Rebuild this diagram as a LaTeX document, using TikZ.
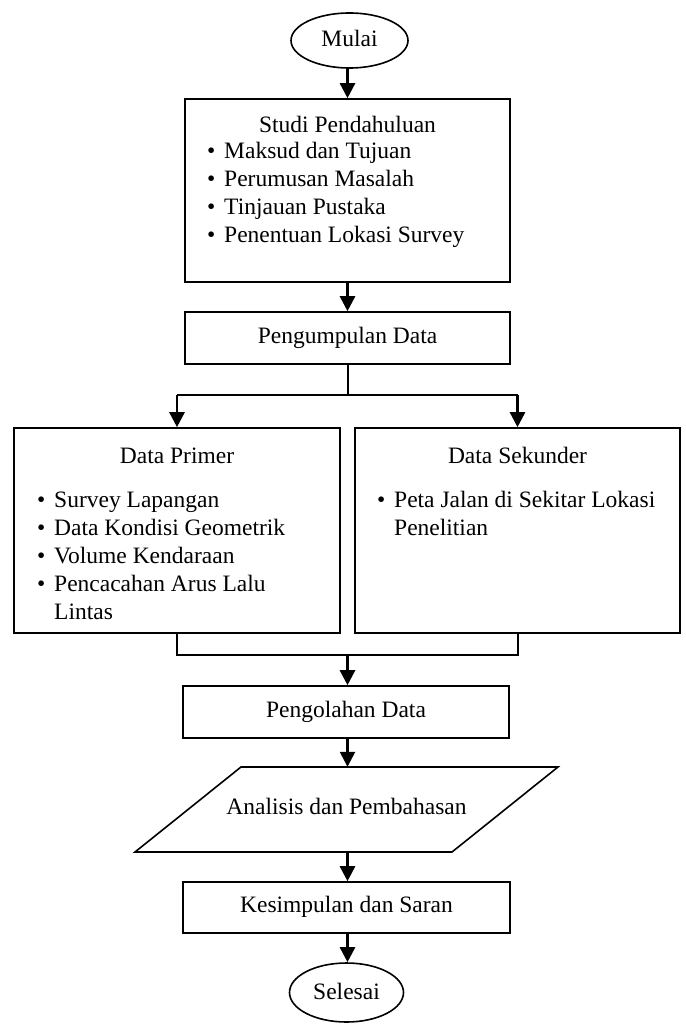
\documentclass[tikz,border=0pt]{standalone}
\usepackage{fontspec}
\setmainfont{Liberation Serif}
\usetikzlibrary{arrows.meta,shapes.geometric}
\newcommand{\bul}{\makebox[17pt][l]{\textbullet}}
\tikzset{
  every node/.style={font=\fontsize{23.5}{28}\selectfont, inner sep=0pt},
  boxnode/.style={draw, line width=1.6pt, rectangle, text height=15pt, text depth=5pt},
  bignode/.style={draw, line width=1.6pt, rectangle},
  ovalnode/.style={draw, line width=1.6pt, ellipse, text height=15pt, text depth=2pt},
  lbl/.style={anchor=base},
  item/.style={anchor=base west},
  conn/.style={line width=2pt},
  arr/.style={line width=2.6pt, -{Triangle[width=15pt,length=15pt]}},
}
\begin{document}
\begin{tikzpicture}[x=1pt,y=-1pt]
\useasboundingbox (0,0) rectangle (685,1024);

% nodes
\node[ovalnode, minimum width=117pt, minimum height=55pt] (mulai) at (349.5,40.5) {Mulai};

\node[bignode, minimum width=325pt, minimum height=183pt] (studi) at (347.5,190.5) {};
\node[lbl] (studiT) at (347.5,133) {Studi Pendahuluan};
\node[item] (s1) at (207,158.8) {\bul Maksud dan Tujuan};
\node[item] (s2) at (207,187) {\bul Perumusan Masalah};
\node[item] (s3) at (207,214.5) {\bul Tinjauan Pustaka};
\node[item] (s4) at (207,242.8) {\bul Penentuan Lokasi Survey};

\node[boxnode, minimum width=325pt, minimum height=52pt] (kumpul) at (347.5,338) {Pengumpulan Data};

\node[bignode, minimum width=326pt, minimum height=205pt] (primer) at (177,530.5) {};
\node[lbl] (primerT) at (177,463) {Data Primer};
\node[item] (p1) at (37,507.2) {\bul Survey Lapangan};
\node[item] (p2) at (37,535.2) {\bul Data Kondisi Geometrik};
\node[item] (p3) at (37,563.2) {\bul Volume Kendaraan};
\node[item] (p4) at (37,591.2) {\bul Pencacahan Arus Lalu};
\node[item] (p5) at (37,619.2) {\hspace*{17pt}Lintas};

\node[bignode, minimum width=325pt, minimum height=205pt] (sekunder) at (517.5,530.5) {};
\node[lbl] (sekunderT) at (517.5,463) {Data Sekunder};
\node[item] (k1) at (377,507.2) {\bul Peta Jalan di Sekitar Lokasi};
\node[item] (k2) at (377,535.2) {\hspace*{17pt}Penelitian};

\node[boxnode, minimum width=326pt, minimum height=52pt] (olah) at (346,712) {Pengolahan Data};

\node[rectangle, text height=15pt, text depth=5pt, minimum width=200pt, minimum height=85pt] (analisis) at (346.5,809.5) {Analisis dan Pembahasan};
\draw[line width=1.6pt] ([shift={(-211.5,42.5)}]analisis.center) -- ([shift={(-105.5,-42.5)}]analisis.center)
  -- ([shift={(211.5,-42.5)}]analisis.center) -- ([shift={(105.5,42.5)}]analisis.center) -- cycle;

\node[boxnode, minimum width=327pt, minimum height=51pt] (simpul) at (346.5,907.5) {Kesimpulan dan Saran};

\node[ovalnode, minimum width=114pt, minimum height=59pt] (selesai) at (346.5,992.5) {Selesai};

% connectors
\coordinate (split) at (347.5,395);
\coordinate (merge) at (347.5,655);

\draw[arr] (studi.north |- mulai.south) -- (studi.north);
\draw[arr] (studi.south) -- (kumpul.north);
\draw[conn] (kumpul.south) -- (split);
\draw[conn] (primer.north |- split) -- (sekunder.north |- split);
\draw[arr] (primer.north |- split) -- (primer.north);
\draw[arr] (sekunder.north |- split) -- (sekunder.north);
\draw[conn] (primer.south) -- (primer.south |- merge) -- (sekunder.south |- merge) -- (sekunder.south);
\draw[arr] (merge) -- (olah.north -| merge);
\draw[arr] (olah.south -| merge) -- (analisis.north -| merge);
\draw[arr] (analisis.south -| merge) -- (simpul.north -| merge);
\draw[arr] (simpul.south -| merge) -- (selesai.north -| merge);
\end{tikzpicture}
\end{document}
